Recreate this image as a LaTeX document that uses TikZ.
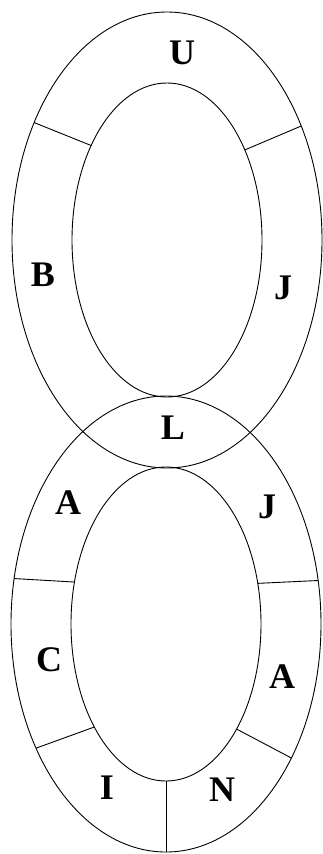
\documentclass[tikz,border=0pt]{standalone}
\usepackage{fontspec}
\setmainfont{Liberation Serif}
\usetikzlibrary{calc}
\begin{document}
\begin{tikzpicture}[x=1pt,y=-1pt,line width=0.9pt,
  lbl/.style={font=\fontsize{36}{36}\selectfont\bfseries,inner sep=0pt}]
\useasboundingbox (0,0) rectangle (323,854);
% centres
\coordinate (ct) at (167,240);
\coordinate (cb) at (166,624);
% top ring
\draw (ct) ellipse [x radius=155, y radius=228];
\draw (ct) ellipse [x radius=95, y radius=157];
% bottom ring
\draw (cb) ellipse [x radius=155, y radius=228];
\draw (cb) ellipse [x radius=95, y radius=157];
% top dividers
\draw ($(ct)+(211:155 and 228)$) -- ($(ct)+(217:95 and 157)$);
\draw ($(ct)+(330:155 and 228)$) -- ($(ct)+(325:95 and 157)$);
% bottom dividers
\draw ($(cb)+(191.5:155 and 228)$) -- ($(cb)+(195.5:95 and 157)$);
\draw ($(cb)+(-11:155 and 228)$) -- ($(cb)+(-15:95 and 157)$);
\draw ($(cb)+(147:155 and 228)$) -- ($(cb)+(139:95 and 157)$);
\draw ($(cb)+(36:155 and 228)$) -- ($(cb)+(42:95 and 157)$);
\draw ($(cb)+(90:155 and 228)$) -- ($(cb)+(90:95 and 157)$);
% labels
\node[lbl] (u) at (182,53) {U};
\node[lbl] (b) at (43,275) {B};
\node[lbl] (j1) at (283,288) {J};
\node[lbl] (l) at (173,428) {L};
\node[lbl] (a1) at (68,503) {A};
\node[lbl] (j2) at (267,507) {J};
\node[lbl] (c) at (49,660) {C};
\node[lbl] (a2) at (282,677) {A};
\node[lbl] (i) at (107,788) {I};
\node[lbl] (n) at (222,790) {N};
\end{tikzpicture}
\end{document}
